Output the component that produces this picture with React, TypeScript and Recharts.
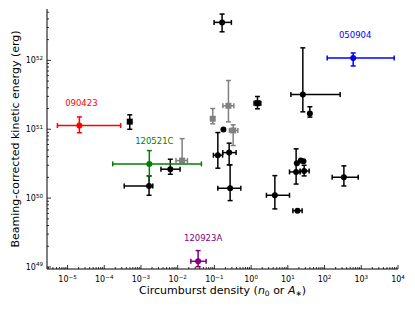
import { ScatterChart, Scatter, XAxis, YAxis, ErrorBar } from "recharts";

// axis ranges / ticks (log-log)
const X_DOMAIN = [2.76e-6, 1e4];
const Y_DOMAIN = [9.35e48, 5.57e52];
const X_MAJOR = [1e-5, 1e-4, 1e-3, 1e-2, 1e-1, 1, 10, 100, 1000, 10000];
const Y_MAJOR = [1e49, 1e50, 1e51, 1e52];
const MINOR_MULT = [2, 3, 4, 5, 6, 7, 8, 9];

// black circles with error bars
const blkX = [0.162, 25.6, 39.8, 6.3e-3, 1.66e-3, 0.124, 0.252, 0.268, 4.43, 18.3, 16.8, 27.8, 336];
const blkXLo = [0.098, 12.1, 39.8, 3.5e-3, 3.5e-4, 0.094, 0.169, 0.124, 2.61, 13.7, 11.1, 21.6, 161];
const blkXHi = [0.29, 266, 39.8, 0.0116, 2.1e-3, 0.167, 0.39, 0.524, 11.1, 24.5, 21.6, 38, 824];
const blkY = [3.56e52, 3.19e51, 1.69e51, 2.63e50, 1.5e50, 4.2e50, 4.58e50, 1.39e50, 1.1e50, 6.58e49, 2.4e50, 2.48e50, 2.01e50];
const blkYLo = [2.6e52, 1.79e51, 1.5e51, 2.22e50, 1.1e50, 2.72e50, 3.04e50, 9.2e49, 6.97e49, 6.58e49, 1.6e50, 2.1e50, 1.5e50];
const blkYHi = [4.7e52, 1.52e52, 2.12e51, 3.67e50, 2.1e50, 8.96e50, 6.28e50, 3.04e50, 2.12e50, 6.58e49, 5.2e50, 3.0e50, 2.94e50];

// black circles, no error bars
const dotX = [0.176, 17.6, 22.6, 26.6];
const dotY = [9.9e50, 3.21e50, 3.51e50, 3.43e50];

// black squares
const sqX = [4.95e-4, 1.49];
const sqXLo = [4.95e-4, 1.2];
const sqXHi = [4.95e-4, 1.84];
const sqY = [1.29e51, 2.39e51];
const sqYLo = [1.0e51, 1.98e51];
const sqYHi = [1.62e51, 2.99e51];

// grey squares
const grX = [0.241, 0.09, 0.324, 0.0132];
const grXLo = [0.17, 0.09, 0.256, 0.009];
const grXHi = [0.338, 0.09, 0.435, 0.0184];
const grY = [2.19e51, 1.42e51, 9.6e50, 3.51e50];
const grYLo = [1.28e51, 1.2e51, 5.8e50, 3.2e50];
const grYHi = [5.1e51, 2.0e51, 1.16e51, 7.3e50];

// highlighted GRBs
const grbNames = ["090423", "050904", "120521C", "120923A"];
const grbColors = ["#ff0000", "#0000ff", "#008000", "#800080"];
const grbLabelDx = [2, 2, 5, 5];
const grbX = [2.1e-5, 602, 1.69e-3, 0.036];
const grbXLo = [5.3e-6, 118, 1.7e-4, 0.0228];
const grbXHi = [2.8e-4, 7870, 0.0443, 0.0594];
const grbY = [1.13e51, 1.08e52, 3.14e50, 1.21e49];
const grbYLo = [8.9e50, 8.3e51, 2.1e50, 1.01e49];
const grbYHi = [1.51e51, 1.28e52, 4.9e50, 1.73e49];

const rows = (x: number[], xLo: number[], xHi: number[], y: number[], yLo: number[], yHi: number[]) =>
  x.map((v, i) => ({
    x: v,
    y: y[i],
    ex: [v - xLo[i], xHi[i] - v],
    ey: [y[i] - yLo[i], yHi[i] - y[i]],
  }));

const minorTicks = (major: number[], domain: number[]) => {
  const out: number[] = [];
  [major[0] / 10, ...major].forEach((m) => MINOR_MULT.forEach((k) => out.push(m * k)));
  return out.filter((v) => v > domain[0] && v < domain[1]);
};
const X_TICKS = [...X_MAJOR, ...minorTicks(X_MAJOR, X_DOMAIN)];
const Y_TICKS = [...Y_MAJOR, ...minorTicks(Y_MAJOR, Y_DOMAIN)];

const isMajor = (v: number) => Math.abs(Math.log10(v) - Math.round(Math.log10(v))) < 1e-6;
const expo = (v: number) => {
  const n = Math.round(Math.log10(v));
  return n < 0 ? "\u2212" + -n : String(n);
};

const TICK_W = 0.8;

const BottomTick = ({ x, y, payload }: any) => {
  const m = isMajor(payload.value);
  return (
    <g>
      <line x1={x} x2={x} y1={y} y2={y - (m ? 4 : 2)} stroke="#000" strokeWidth={TICK_W} />
      {m && (
        <text x={x} y={y + 13} textAnchor="middle" fontSize={8} fill="#000">
          10<tspan dy={-3.5} fontSize={5.6}>{expo(payload.value)}</tspan>
        </text>
      )}
    </g>
  );
};
const TopTick = ({ x, y, payload }: any) => {
  const m = isMajor(payload.value);
  return <line x1={x} x2={x} y1={y} y2={y + (m ? 4 : 2)} stroke="#000" strokeWidth={TICK_W} />;
};
const LeftTick = ({ x, y, payload }: any) => {
  const m = isMajor(payload.value);
  return (
    <g>
      <line x1={x} x2={x + (m ? 4 : 2)} y1={y} y2={y} stroke="#000" strokeWidth={TICK_W} />
      {m && (
        <text x={x - 4} y={y + 3} textAnchor="end" fontSize={8} fill="#000">
          10<tspan dy={-3.5} fontSize={5.6}>{expo(payload.value)}</tspan>
        </text>
      )}
    </g>
  );
};
const RightTick = ({ x, y, payload }: any) => {
  const m = isMajor(payload.value);
  return <line x1={x} x2={x - (m ? 4 : 2)} y1={y} y2={y} stroke="#000" strokeWidth={TICK_W} />;
};

const xTitle = (props: any) => {
  const vb = props.viewBox;
  return (
    <text x={vb.x + vb.width / 2} y={vb.y + 25} textAnchor="middle" fontSize={11} fill="#000">
      Circumburst density (<tspan fontStyle="italic">n</tspan>
      <tspan fontSize={7.5} dy={2}>0</tspan>
      <tspan dy={-2}> or </tspan>
      <tspan fontStyle="italic">A</tspan>
      <tspan fontSize={7.5} dy={2}>∗</tspan>
      <tspan dy={-2}>)</tspan>
    </text>
  );
};
const yTitle = (props: any) => {
  const vb = props.viewBox;
  const cx = vb.x + 18.5;
  const cy = vb.y + vb.height / 2;
  return (
    <text x={cx} y={cy} transform={`rotate(-90, ${cx}, ${cy})`} textAnchor="middle" fontSize={11} fill="#000">
      Beaming-corrected kinetic energy (erg)
    </text>
  );
};

const marker = (color: string, square: boolean) => (p: any) =>
  square ? (
    <rect x={p.cx - 3} y={p.cy - 3} width={6} height={6} fill={color} />
  ) : (
    <circle cx={p.cx} cy={p.cy} r={3} fill={color} />
  );

const labelled = (color: string, name: string, dx: number) => (p: any) => (
  <g>
    <circle cx={p.cx} cy={p.cy} r={3} fill={color} />
    <text x={p.cx + dx} y={p.cy - 20} textAnchor="middle" fontSize={8.5} fill={color}>
      {name}
    </text>
  </g>
);

const bars = (color: string) => [
  <ErrorBar key="ex" dataKey="ex" direction="x" width={2.5} stroke={color} strokeWidth={1.5} />,
  <ErrorBar key="ey" dataKey="ey" direction="y" width={2.5} stroke={color} strokeWidth={1.5} />,
];

const axisLine = { stroke: "#000", strokeWidth: 1 };

export default function App() {
  const black = rows(blkX, blkXLo, blkXHi, blkY, blkYLo, blkYHi);
  const squares = rows(sqX, sqXLo, sqXHi, sqY, sqYLo, sqYHi);
  const grey = rows(grX, grXLo, grXHi, grY, grYLo, grYHi);
  const dots = dotX.map((v, i) => ({ x: v, y: dotY[i] }));
  const grbs = grbNames.map((n, i) => rows([grbX[i]], [grbXLo[i]], [grbXHi[i]], [grbY[i]], [grbYLo[i]], [grbYHi[i]]));

  return (
    <div style={{ position: "absolute", left: 0, top: 0, width: 415, height: 312, background: "#fff", fontFamily: "DejaVu Sans" }}>
      <ScatterChart width={415} height={312} margin={{ top: 9, right: 17, bottom: 0, left: 0 }}>
        <XAxis
          xAxisId="b" type="number" dataKey="x" scale="log" domain={X_DOMAIN} allowDataOverflow
          ticks={X_TICKS} interval={0} tick={<BottomTick />} tickLine={false} tickSize={0} tickMargin={0}
          height={43} axisLine={axisLine} label={xTitle}
        />
        <XAxis
          xAxisId="t" orientation="top" type="number" dataKey="x" scale="log" domain={X_DOMAIN} allowDataOverflow
          ticks={X_TICKS} interval={0} tick={<TopTick />} tickLine={false} tickSize={0} tickMargin={0}
          height={0} axisLine={axisLine}
        />
        <YAxis
          yAxisId="l" type="number" dataKey="y" scale="log" domain={Y_DOMAIN} allowDataOverflow
          ticks={Y_TICKS} interval={0} tick={<LeftTick />} tickLine={false} tickSize={0} tickMargin={0}
          width={47} axisLine={axisLine} label={yTitle}
        />
        <YAxis
          yAxisId="r" orientation="right" type="number" dataKey="y" scale="log" domain={Y_DOMAIN} allowDataOverflow
          ticks={Y_TICKS} interval={0} tick={<RightTick />} tickLine={false} tickSize={0} tickMargin={0}
          width={0} axisLine={axisLine}
        />
        <Scatter xAxisId="b" yAxisId="l" data={grey} shape={marker("#808080", true)} isAnimationActive={false}>
          {bars("#808080")}
        </Scatter>
        <Scatter xAxisId="b" yAxisId="l" data={black} shape={marker("#000", false)} isAnimationActive={false}>
          {bars("#000")}
        </Scatter>
        <Scatter xAxisId="b" yAxisId="l" data={squares} shape={marker("#000", true)} isAnimationActive={false}>
          {bars("#000")}
        </Scatter>
        <Scatter xAxisId="b" yAxisId="l" data={dots} shape={marker("#000", false)} isAnimationActive={false} />
        {grbs.map((d, i) => (
          <Scatter
            key={grbNames[i]} xAxisId="b" yAxisId="l" data={d}
            shape={labelled(grbColors[i], grbNames[i], grbLabelDx[i])} isAnimationActive={false}
          >
            {bars(grbColors[i])}
          </Scatter>
        ))}
      </ScatterChart>
    </div>
  );
}
